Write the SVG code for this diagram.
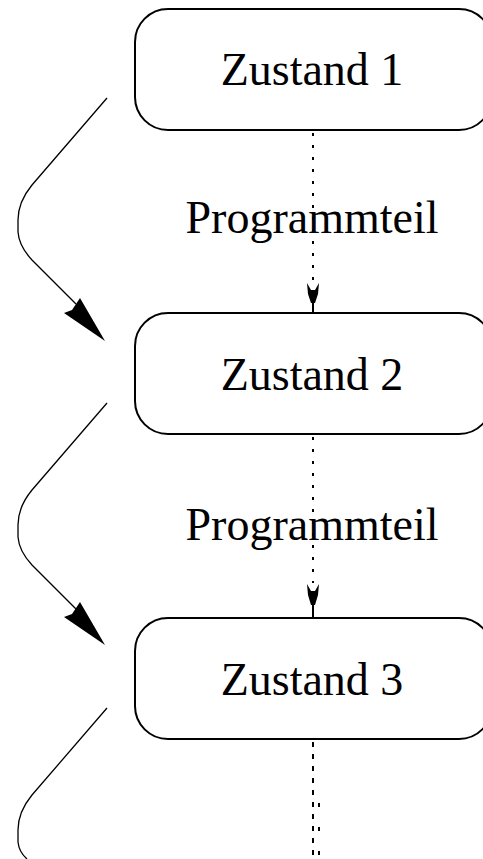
<svg xmlns="http://www.w3.org/2000/svg" width="483" height="859" viewBox="0 0 483 859">
<style>
.box{fill:#fff;stroke:#000;stroke-width:2}
.lbl{font-family:"Liberation Serif","Times New Roman",serif;font-size:46px;fill:#000;text-anchor:middle}
.curve{fill:none;stroke:#000;stroke-width:1.3}
.dot{fill:none;stroke:#000;stroke-width:2;stroke-dasharray:3 9}
</style>
<rect width="483" height="859" fill="#fff"/>
<g id="connectors">
<path class="curve" d="M107,98 L32,185 Q18,202 18,220 L18,232 Q19,246 32,260 L76,304"/>
<polygon points="105,341 64,313 72,310 80,298"/>
<path class="curve" d="M107,403 L32,490 Q18,507 18,525 L18,537 Q19,551 32,565 L76,609"/>
<polygon points="105,645 64,617 72,614 80,602"/>
<path class="curve" d="M107,708 L32,795 Q18,812 18,830 L18,842 Q19,852 27,859"/>
<line class="dot" x1="313" y1="133" x2="313" y2="282"/>
<polygon points="307,283 311,290 315,290 319,283 318,294 315,303 311,303 308,294"/>
<line x1="313" y1="302" x2="313" y2="313" stroke="#000" stroke-width="2"/>
<line class="dot" x1="313" y1="437" x2="313" y2="583"/>
<polygon points="307,584 311,591 315,591 319,584 318,595 315,605 311,605 308,595"/>
<line x1="313" y1="604" x2="313" y2="618" stroke="#000" stroke-width="2"/>
<line x1="313" y1="742" x2="313" y2="859" stroke="#000" stroke-width="2" stroke-dasharray="5 7"/>
<rect x="318" y="803" width="2" height="4"/>
<rect x="318" y="827" width="2" height="4"/>
<rect x="318" y="851" width="2" height="4"/>
</g>
<g id="label1"><text class="lbl" x="312" y="233">Programmteil</text></g>
<g id="label2"><text class="lbl" x="312" y="540">Programmteil</text></g>
<g id="state1">
<rect class="box" x="135" y="9" width="357" height="121" rx="33" ry="33"/>
<text class="lbl" x="312" y="85">Zustand 1</text>
</g>
<g id="state2">
<rect class="box" x="135" y="313" width="357" height="121" rx="33" ry="33"/>
<text class="lbl" x="312" y="390">Zustand 2</text>
</g>
<g id="state3">
<rect class="box" x="135" y="618" width="357" height="121" rx="33" ry="33"/>
<text class="lbl" x="312" y="695">Zustand 3</text>
</g>
</svg>
